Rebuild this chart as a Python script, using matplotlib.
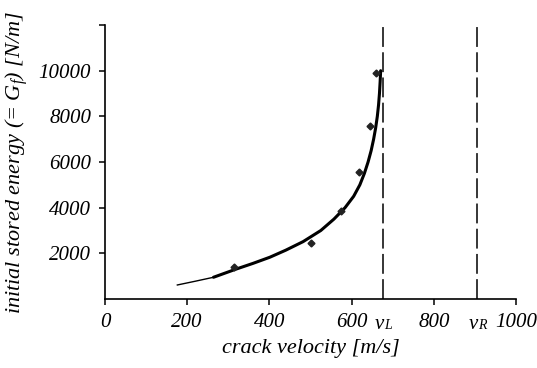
import matplotlib
matplotlib.use('Agg')
import matplotlib.pyplot as plt

plt.rcParams['font.family'] = ['Liberation Serif', 'DejaVu Serif']
plt.rcParams['font.style'] = 'italic'
plt.rcParams['mathtext.fontset'] = 'custom'
plt.rcParams['mathtext.it'] = 'Liberation Serif:italic'
plt.rcParams['mathtext.rm'] = 'Liberation Serif:italic'

# measured points
vel_meas = [315, 500, 574, 618, 644, 660]
energy_meas = [1390, 2470, 3870, 5555, 7570, 9910]

# fitted curve
vel_fit_start = [176, 220, 264]
energy_fit_start = [614, 780, 952]
vel_fit = [264, 320, 360, 401, 440, 482, 525, 557, 584, 605, 620, 631,
           640, 647.5, 653.5, 658.5, 662.5, 665.5, 667.7, 669.3, 670.6]
energy_fit = [952, 1316, 1560, 1829, 2140, 2513, 3000, 3500, 4000, 4500,
              5000, 5500, 6000, 6500, 7000, 7500, 8000, 8500, 9000, 9500,
              10000]

v_L = 676
v_R = 905
xticks = [0, 200, 400, 600, 800, 1000]
yticks = [2000, 4000, 6000, 8000, 10000]

fig = plt.figure(figsize=(5.37, 3.68), dpi=100)
ax = fig.add_axes([0.1955, 0.1875, 0.7655, 0.7445])

ax.plot(vel_fit_start, energy_fit_start, color='black', lw=1.0)
ax.plot(vel_fit, energy_fit, color='black', lw=2.2, solid_capstyle='round',
        solid_joinstyle='round')
ax.plot(vel_meas, energy_meas, linestyle='none', marker='D', ms=3.5,
        color='#222222')

for v in (v_L, v_R):
    ax.axvline(v, color='black', lw=1.1, linestyle=(0, (13, 3.5)))

ax.set_xlim(0, 1000)
ax.set_ylim(0, 12000)
ax.set_xticks(xticks)
ax.set_xticklabels([str(t) for t in xticks])
ax.set_yticks(yticks + [12000])
ax.set_yticklabels([str(t) for t in yticks] + [''])
ax.tick_params(direction='out', length=4, width=1.1, labelsize=15, pad=6)
ax.spines['top'].set_visible(False)
ax.spines['right'].set_visible(False)
ax.spines['left'].set_linewidth(1.2)
ax.spines['bottom'].set_linewidth(1.2)

for v, lab in ((v_L, 'L'), (v_R, 'R')):
    ax.text(v + 2, -0.11, 'v', transform=ax.get_xaxis_transform(),
            fontsize=15, ha='right', va='baseline')
    ax.text(v + 3, -0.11, lab, transform=ax.get_xaxis_transform(),
            fontsize=10, ha='left', va='baseline')

ax.set_xlabel('crack velocity [m/s]', fontsize=16, labelpad=5)
ax.set_ylabel(r'initial stored energy (= $G_{f}$) [N/m]', fontsize=16,
              labelpad=6)

fig.savefig('out.png', dpi=100)
